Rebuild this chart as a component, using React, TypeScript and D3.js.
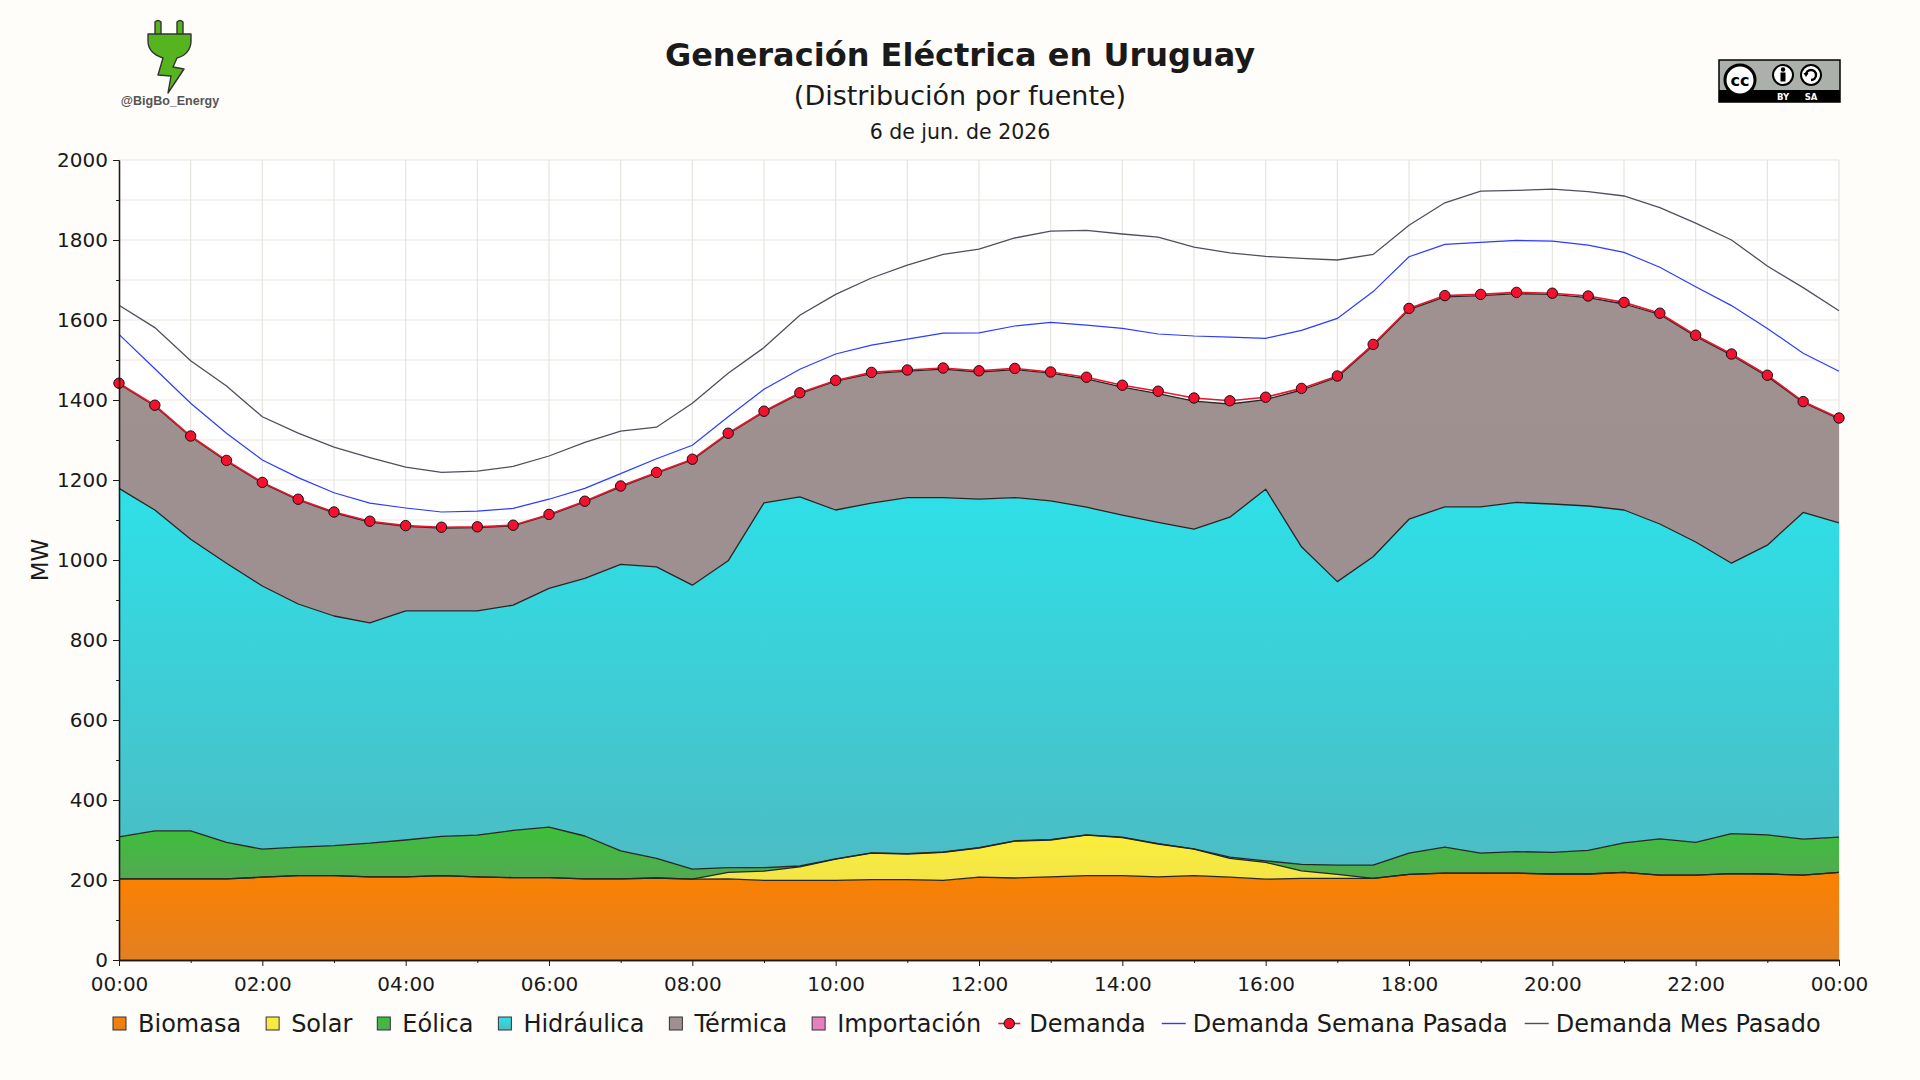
import React, { useEffect, useRef } from 'react';
import * as d3 from 'd3';

// Half-hour timestamps for the day (24:00 = next midnight)
const times = [
  '00:00', '00:30', '01:00', '01:30', '02:00', '02:30', '03:00', '03:30', '04:00', '04:30',
  '05:00', '05:30', '06:00', '06:30', '07:00', '07:30', '08:00', '08:30', '09:00', '09:30',
  '10:00', '10:30', '11:00', '11:30', '12:00', '12:30', '13:00', '13:30', '14:00', '14:30',
  '15:00', '15:30', '16:00', '16:30', '17:00', '17:30', '18:00', '18:30', '19:00', '19:30',
  '20:00', '20:30', '21:00', '21:30', '22:00', '22:30', '23:00', '23:30', '24:00',
];

// Generation by source (MW)
const biomasa = [
  203, 203, 203, 203, 207, 211, 211, 208, 208, 211,
  208, 206, 206, 203, 203, 205, 202, 203, 199, 199,
  199, 201, 201, 199, 207, 205, 208, 211, 211, 208,
  211, 207, 202, 204, 204, 204, 214, 217, 217, 217,
  215, 215, 219, 212, 212, 216, 215, 212, 219,
];
const solar = [
  0, 0, 0, 0, 0, 0, 0, 0, 0, 0,
  0, 0, 0, 0, 0, 0, 0, 16, 23, 34,
  53, 66, 64, 70, 73, 92, 92, 101, 95, 82,
  66, 47, 42, 19, 10, 0, 0, 0, 0, 0,
  0, 0, 0, 0, 0, 0, 0, 0, 0,
];
const eolica = [
  105, 120, 120, 91, 70, 71, 75, 84, 92, 98,
  104, 118, 126, 107, 70, 49, 25, 12, 9, 2,
  1, 1, 1, 1, 1, 1, 1, 1, 1, 1,
  1, 3, 4, 16, 23, 33, 53, 65, 50, 54,
  54, 59, 74, 91, 82, 100, 98, 90, 88,
];
const hidraulica = [
  871, 802, 729, 698, 658, 608, 574, 551, 573, 564,
  561, 563, 597, 644, 716, 729, 710, 767, 912, 923,
  872, 874, 890, 886, 871, 858, 847, 819, 805, 803,
  799, 850, 929, 794, 709, 771, 835, 851, 866, 873,
  871, 861, 832, 787, 751, 676, 724, 817, 786,
];
const termica = [
  261, 260, 256, 255, 257, 260, 258, 252, 211, 207,
  208, 198, 183, 191, 194, 234, 313, 317, 227, 258,
  322, 324, 316, 321, 318, 320, 319, 321, 320, 322,
  320, 283, 224, 392, 511, 528, 524, 525, 528, 522,
  524, 521, 515, 524, 514, 520, 422, 275, 260,
];
const importacion = [
  0, 0, 0, 0, 0, 0, 0, 0, 0, 0,
  0, 0, 0, 0, 0, 0, 0, 0, 0, 0,
  0, 0, 0, 0, 0, 0, 0, 0, 0, 0,
  0, 0, 0, 0, 0, 0, 0, 0, 0, 0,
  0, 0, 0, 0, 0, 0, 0, 0, 0,
];

// Demand series (MW)
const demanda = [
  1442, 1387, 1310, 1249, 1194, 1152, 1120, 1097, 1086, 1082,
  1083, 1087, 1114, 1147, 1185, 1219, 1252, 1317, 1372, 1418,
  1449, 1469, 1475, 1480, 1473, 1479, 1470, 1457, 1437, 1422,
  1405, 1398, 1407, 1429, 1460, 1539, 1629, 1661, 1664, 1669,
  1667, 1660, 1644, 1617, 1562, 1515, 1462, 1396, 1355,
];
const semanaPasada = [
  1564, 1478, 1392, 1317, 1250, 1206, 1168, 1142, 1130, 1120,
  1122, 1129, 1152, 1179, 1216, 1253, 1287, 1358, 1427, 1477,
  1515, 1537, 1552, 1567, 1568, 1585, 1594, 1587, 1579, 1565,
  1560, 1557, 1554, 1574, 1604, 1671, 1758, 1789, 1794, 1799,
  1797, 1787, 1769, 1732, 1683, 1636, 1579, 1517, 1472,
];
const mesPasado = [
  1637, 1581, 1498, 1435, 1358, 1317, 1282, 1256, 1232, 1219,
  1222, 1234, 1260, 1294, 1322, 1332, 1392, 1467, 1531, 1612,
  1664, 1705, 1737, 1764, 1777, 1805, 1822, 1824, 1815, 1807,
  1782, 1768, 1759, 1754, 1750, 1764, 1837, 1893, 1922, 1924,
  1927, 1921, 1910, 1881, 1842, 1800, 1735, 1681, 1623,
];

const sourceKeys = ['Biomasa', 'Solar', 'Eólica', 'Hidráulica', 'Térmica', 'Importación'];
const sourceSeries = [biomasa, solar, eolica, hidraulica, termica, importacion];
const sourceColors: Record<string, [string, string]> = {
  'Biomasa': ['#fb8100', '#e37f22'],
  'Solar': ['#fbee3a', '#f3e548'],
  'Eólica': ['#3ebf3a', '#52a952'],
  'Hidráulica': ['#2ee0e8', '#4cbcc4'],
  'Térmica': ['#a09191', '#9e9090'],
  'Importación': ['#e680c0', '#e680c0'],
};

const xTickHours = [0, 2, 4, 6, 8, 10, 12, 14, 16, 18, 20, 22, 24];
const xTickLabels = ['00:00', '02:00', '04:00', '06:00', '08:00', '10:00', '12:00', '14:00', '16:00', '18:00', '20:00', '22:00', '00:00'];
const yTicks = [0, 200, 400, 600, 800, 1000, 1200, 1400, 1600, 1800, 2000];

const title = 'Generación Eléctrica en Uruguay';
const subtitle = '(Distribución por fuente)';
const dateLabel = '6 de jun. de 2026';

const FONT = "'DejaVu Sans', sans-serif";

const App: React.FC = () => {
  const svgRef = useRef<SVGSVGElement>(null);

  useEffect(() => {
    document.body.style.margin = '0';
    if (!svgRef.current) return;
    const W = 1920, H = 1080;
    const svg = d3.select(svgRef.current);
    svg.selectAll('*').remove();
    svg.attr('width', W).attr('height', H).style('font-family', FONT);

    svg.append('rect').attr('width', W).attr('height', H).attr('fill', '#fefdf9');

    const plot = { left: 119, right: 1839, top: 160, bottom: 960 };
    const hours = times.map(t => {
      const [h, m] = t.split(':').map(Number);
      return h + m / 60;
    });

    const x = d3.scaleLinear().domain([0, 24]).range([plot.left, plot.right]);
    const y = d3.scaleLinear().domain([0, 2000]).range([plot.bottom, plot.top]);

    // plot background + grid
    svg.append('rect')
      .attr('x', plot.left).attr('y', plot.top)
      .attr('width', plot.right - plot.left).attr('height', plot.bottom - plot.top)
      .attr('fill', '#ffffff');

    const grid = svg.append('g').attr('stroke', '#e7e5df').attr('stroke-width', 1.2);
    grid.selectAll('.hg')
      .data(d3.range(100, 2001, 100))
      .join('line')
      .attr('x1', plot.left).attr('x2', plot.right)
      .attr('y1', d => y(d)).attr('y2', d => y(d));
    grid.selectAll('.vg')
      .data(d3.range(1, 25, 1))
      .join('line')
      .attr('x1', d => x(d)).attr('x2', d => x(d))
      .attr('y1', plot.top).attr('y2', plot.bottom);

    // Stack
    const rows = hours.map((h, i) => {
      const r: any = { h };
      sourceKeys.forEach((k, j) => { r[k] = sourceSeries[j][i]; });
      return r;
    });
    const stacked = d3.stack<any>().keys(sourceKeys)(rows);

    const defs = svg.append('defs');
    sourceKeys.forEach((k, i) => {
      const g = defs.append('linearGradient')
        .attr('id', `grad${i}`)
        .attr('x1', 0).attr('y1', 0).attr('x2', 0).attr('y2', 1);
      g.append('stop').attr('offset', '0%').attr('stop-color', sourceColors[k][0]);
      g.append('stop').attr('offset', '100%').attr('stop-color', sourceColors[k][1]);
    });

    const area = d3.area<any>()
      .x(d => x(d.data.h))
      .y0(d => y(d[0]))
      .y1(d => y(d[1]));
    const topLine = d3.line<any>()
      .x(d => x(d.data.h))
      .y(d => y(d[1]));

    const areas = svg.append('g');
    stacked.forEach((s, i) => {
      areas.append('path')
        .attr('d', area(s as any)!)
        .attr('fill', `url(#grad${i})`);
    });
    stacked.forEach((s, i) => {
      if (sourceSeries[i].every(v => v === 0)) return;
      areas.append('path')
        .attr('d', topLine(s as any)!)
        .attr('fill', 'none')
        .attr('stroke', '#262626')
        .attr('stroke-width', 1.3)
        .attr('stroke-linejoin', 'round');
    });

    // comparison lines
    const valueLine = d3.line<number>()
      .x((_, i) => x(hours[i]))
      .y(d => y(d));

    svg.append('path')
      .attr('d', valueLine(mesPasado)!)
      .attr('fill', 'none')
      .attr('stroke', '#4f4f5e')
      .attr('stroke-width', 1.3);
    svg.append('path')
      .attr('d', valueLine(semanaPasada)!)
      .attr('fill', 'none')
      .attr('stroke', '#2b3cff')
      .attr('stroke-width', 1.2);

    svg.append('path')
      .attr('d', valueLine(demanda)!)
      .attr('fill', 'none')
      .attr('stroke', '#e8172d')
      .attr('stroke-width', 1.6);
    svg.append('g')
      .selectAll('circle')
      .data(demanda)
      .join('circle')
      .attr('cx', (_, i) => x(hours[i]))
      .attr('cy', d => y(d))
      .attr('r', 5.2)
      .attr('fill', '#f4102f')
      .attr('stroke', '#111')
      .attr('stroke-width', 1);

    // Axes
    const styleAxis = (g: d3.Selection<SVGGElement, unknown, null, undefined>) => {
      g.attr('font-family', FONT).attr('font-size', 20);
      g.selectAll('text').attr('fill', '#1a1a1a');
      g.selectAll('line').attr('stroke', '#1a1a1a');
      g.select('.domain').attr('stroke', '#1a1a1a').attr('stroke-width', 1.3);
    };

    svg.append('g')
      .attr('transform', `translate(${plot.left},0)`)
      .call(d3.axisLeft(y).tickValues(d3.range(100, 2000, 200)).tickSize(3).tickSizeOuter(0).tickFormat(() => ''))
      .call(styleAxis);
    svg.append('g')
      .attr('transform', `translate(${plot.left},0)`)
      .call(d3.axisLeft(y).tickValues(yTicks).tickSize(6).tickSizeOuter(0).tickPadding(5)
        .tickFormat(d => d3.format('d')(d as number)))
      .call(styleAxis);

    svg.append('g')
      .attr('transform', `translate(0,${plot.bottom})`)
      .call(d3.axisBottom(x).tickValues(d3.range(1, 24, 2)).tickSize(3).tickSizeOuter(0).tickFormat(() => ''))
      .call(styleAxis);
    svg.append('g')
      .attr('transform', `translate(0,${plot.bottom})`)
      .call(d3.axisBottom(x).tickValues(xTickHours).tickSize(6).tickSizeOuter(0).tickPadding(11)
        .tickFormat((_, i) => xTickLabels[i]))
      .call(styleAxis);

    svg.append('text')
      .attr('transform', 'translate(48,560) rotate(-90)')
      .attr('text-anchor', 'middle')
      .attr('font-size', 23)
      .attr('fill', '#1a1a1a')
      .text('MW');

    // Titles
    svg.append('text').attr('x', 960).attr('y', 66).attr('text-anchor', 'middle')
      .attr('font-size', 32).attr('font-weight', 'bold').attr('fill', '#1a1a1a').text(title);
    svg.append('text').attr('x', 960).attr('y', 105).attr('text-anchor', 'middle')
      .attr('font-size', 27).attr('fill', '#1a1a1a').text(subtitle);
    svg.append('text').attr('x', 960).attr('y', 139).attr('text-anchor', 'middle')
      .attr('font-size', 20.5).attr('fill', '#1a1a1a').text(dateLabel);

    // Legend
    const legend = svg.append('g').attr('font-size', 24).attr('fill', '#1a1a1a');
    const ly = 1023.5;
    let cx = 113;
    sourceKeys.forEach((k, i) => {
      if (i > 0) cx += 25;
      legend.append('rect')
        .attr('x', cx).attr('y', ly - 6.5).attr('width', 13).attr('height', 13)
        .attr('fill', `url(#grad${i})`)
        .attr('stroke', '#333').attr('stroke-width', 1);
      const t = legend.append('text').attr('x', cx + 25).attr('y', ly + 8.5).text(k);
      cx = cx + 25 + (t.node() as SVGTextElement).getComputedTextLength();
    });
    // Demanda
    cx += 17;
    legend.append('line').attr('x1', cx).attr('x2', cx + 22).attr('y1', ly).attr('y2', ly)
      .attr('stroke', '#e8172d').attr('stroke-width', 1.6);
    legend.append('circle').attr('cx', cx + 11).attr('cy', ly).attr('r', 5.2)
      .attr('fill', '#f4102f').attr('stroke', '#111').attr('stroke-width', 1);
    let t = legend.append('text').attr('x', cx + 31).attr('y', ly + 8.5).text('Demanda');
    cx = cx + 31 + (t.node() as SVGTextElement).getComputedTextLength();
    // Semana
    cx += 16;
    legend.append('line').attr('x1', cx).attr('x2', cx + 24).attr('y1', ly).attr('y2', ly)
      .attr('stroke', '#2b3cff').attr('stroke-width', 1.4);
    t = legend.append('text').attr('x', cx + 31).attr('y', ly + 8.5).text('Demanda Semana Pasada');
    cx = cx + 31 + (t.node() as SVGTextElement).getComputedTextLength();
    // Mes
    cx += 17;
    legend.append('line').attr('x1', cx).attr('x2', cx + 24).attr('y1', ly).attr('y2', ly)
      .attr('stroke', '#4f4f5e').attr('stroke-width', 1.4);
    legend.append('text').attr('x', cx + 31).attr('y', ly + 8.5).text('Demanda Mes Pasado');

    // Logo
    const logo = svg.append('g');
    logo.append('path')
      .attr('d', 'M155,35 V22 Q158,19 161,22 V35 Z M177,35 V22 Q180,19 183,22 V35 Z')
      .attr('fill', '#56b41f').attr('stroke', '#333').attr('stroke-width', 1.4);
    logo.append('path')
      .attr('d', 'M148,34 H191 V41 C191,50 185,56 177,58 L173,67 L184,69 L168,93 L171,76 L158,75 L163,58 C154,55 148,49 148,41 Z')
      .attr('fill', '#56b41f').attr('stroke', '#333').attr('stroke-width', 1.4).attr('stroke-linejoin', 'round');
    logo.append('text').attr('x', 170).attr('y', 105).attr('text-anchor', 'middle')
      .attr('font-family', "'Liberation Sans', Arial, sans-serif").attr('font-weight', 'bold')
      .attr('font-size', 12.5).attr('fill', '#555').text('@BigBo_Energy');

    // CC BY-SA badge
    const cc = svg.append('g').attr('transform', 'translate(1719,60)');
    cc.append('rect').attr('width', 121).attr('height', 42).attr('fill', '#abb1aa')
      .attr('stroke', '#000').attr('stroke-width', 1.5);
    cc.append('rect').attr('y', 30).attr('width', 121).attr('height', 12).attr('fill', '#000');
    cc.append('circle').attr('cx', 21).attr('cy', 20).attr('r', 15).attr('fill', '#fff')
      .attr('stroke', '#000').attr('stroke-width', 3);
    cc.append('text').attr('x', 21).attr('y', 26).attr('text-anchor', 'middle')
      .attr('font-size', 16).attr('font-weight', 'bold').attr('fill', '#000').text('cc');
    cc.append('circle').attr('cx', 64).attr('cy', 15).attr('r', 10).attr('fill', '#fff')
      .attr('stroke', '#000').attr('stroke-width', 2);
    cc.append('circle').attr('cx', 64).attr('cy', 9.5).attr('r', 2.2).attr('fill', '#000');
    cc.append('rect').attr('x', 61.5).attr('y', 12.5).attr('width', 5).attr('height', 9).attr('fill', '#000');
    cc.append('circle').attr('cx', 92).attr('cy', 15).attr('r', 10).attr('fill', '#fff')
      .attr('stroke', '#000').attr('stroke-width', 2);
    cc.append('path').attr('d', 'M87,15 A5,5 0 1 1 92,20').attr('fill', 'none')
      .attr('stroke', '#000').attr('stroke-width', 2.4);
    cc.append('path').attr('d', 'M84.5,13 L87,17 L89.5,13 Z').attr('fill', '#000');
    cc.append('text').attr('x', 64).attr('y', 40).attr('text-anchor', 'middle')
      .attr('font-size', 8.5).attr('font-weight', 'bold').attr('fill', '#fff').text('BY');
    cc.append('text').attr('x', 92).attr('y', 40).attr('text-anchor', 'middle')
      .attr('font-size', 8.5).attr('font-weight', 'bold').attr('fill', '#fff').text('SA');
  }, []);

  return <svg ref={svgRef} style={{ display: 'block' }} />;
};

export default App;
